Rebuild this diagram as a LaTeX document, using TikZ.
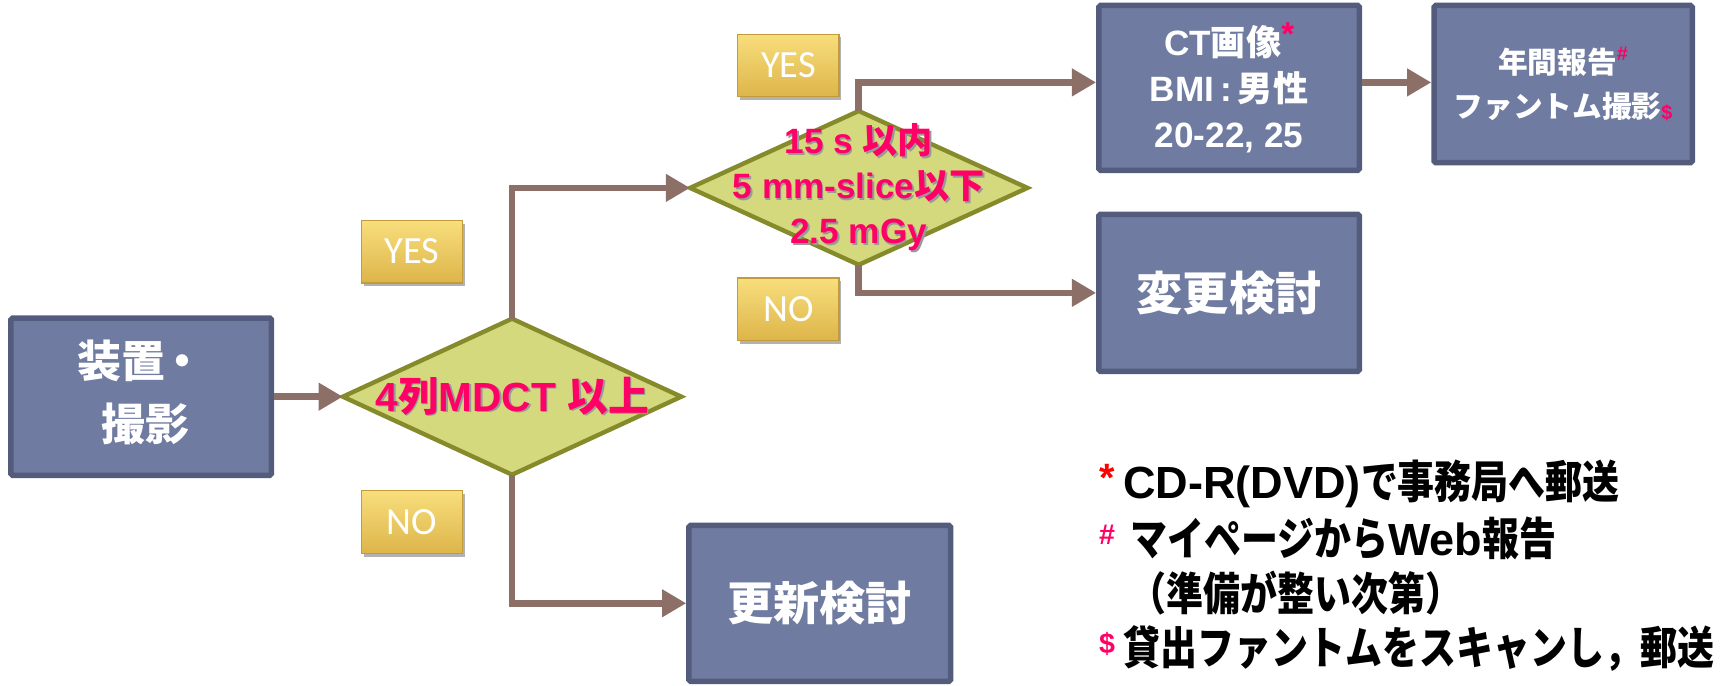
\documentclass[tikz,border=0pt]{standalone}
\usepackage{fontspec}
\usepackage{graphicx}
\setmainfont{Liberation Sans}
\newfontfamily\jp{Noto Sans CJK JP}
\newfontfamily\jpl{Noto Sans CJK JP}[FakeStretch=0.82]
\newfontfamily\carl{Carlito}
\usetikzlibrary{arrows.meta,shapes.geometric,shadows}
\definecolor{boxfill}{HTML}{6F7BA0}
\definecolor{boxline}{HTML}{535C7D}
\definecolor{diafill}{HTML}{D3D97C}
\definecolor{dialine}{HTML}{858A2B}
\definecolor{arr}{HTML}{8C7068}
\definecolor{mag}{HTML}{FF0066}
\definecolor{goldtop}{HTML}{F8DE7C}
\definecolor{goldbot}{HTML}{DDB54A}
\definecolor{goldline}{HTML}{C29C3A}
\newcommand\shd[1]{\leavevmode\rlap{\kern1.5pt\raisebox{-1.5pt}{\color{black!40}#1}}#1}
\tikzset{
  pbox/.style={draw=boxline, fill=boxfill, line width=5pt, text=white,
    align=center, inner sep=0pt, rounded corners=1.5pt},
  dshape/.style={diamond, draw=dialine, fill=diafill, line width=4pt, inner sep=0pt, outer sep=0pt},
  dtext/.style={text=mag, align=center, inner sep=0pt},
  lab/.style={minimum width=92pt, minimum height=57pt, inner sep=0pt, top color=goldtop,
    bottom color=goldbot, draw=goldline, line width=1pt, text=white,
    font=\carl\fontsize{35}{35}\selectfont,
    drop shadow={shadow xshift=2pt, shadow yshift=-3pt, opacity=0.3, fill=black}},
  conn/.style={draw=arr, line width=6pt, -{Triangle[length=22pt,width=24pt]}},
  leg/.style={font=\bfseries\fontsize{41}{41}\selectfont, anchor=west, inner sep=0pt}
}
\begin{document}
\begin{tikzpicture}[x=1pt,y=-1pt]
\useasboundingbox (0,0) rectangle (1568,623.4);
% process boxes
\node[pbox, minimum width=237pt, minimum height=143pt, font=\bfseries\fontsize{40}{57}\selectfont] (b1) at (128.5,361)
  {\begin{tabular}{@{}l@{}}{\jp\bfseries 装置}\kern-0.1em{\jp\bfseries ・}\\\hspace{0.55em}{\jp\bfseries 撮影}\end{tabular}};
\node[pbox, minimum width=237pt, minimum height=150pt, font=\bfseries\fontsize{32}{42}\selectfont] (ct) at (1118.5,80)
  {CT{\jp\bfseries 画像}\raisebox{0.3em}{\color{mag}\fontsize{30}{30}\selectfont*}\\
   BMI\,:\,{\jp\bfseries 男性}\\20-22, 25};
\node[pbox, minimum width=235pt, minimum height=143pt, font=\bfseries\fontsize{27}{40}\selectfont] (nen) at (1422.5,76.5)
  {{\jp\bfseries 年間報告}\raisebox{0.45em}{\color{mag}\fontsize{18}{18}\selectfont\#}\\
   {\jp\bfseries ファントム撮影}\raisebox{-0.05em}{\color{mag}\fontsize{18}{18}\selectfont\$}};
\node[pbox, minimum width=237pt, minimum height=143pt, font=\bfseries\fontsize{42}{42}\selectfont] (hen) at (1118.5,266.5)
  {{\jp\bfseries 変更検討}};
\node[pbox, minimum width=238pt, minimum height=142pt, font=\bfseries\fontsize{42}{42}\selectfont] (kou) at (746,549)
  {{\jp\bfseries 更新検討}};
% decisions
\node[dshape, minimum width=308pt, minimum height=142pt,
  label={[dtext, font=\bfseries\fontsize{37}{37}\selectfont]center:\shd{4{\jp\bfseries 列}MDCT {\jp\bfseries 以上}}}] (d1) at (466,361) {};
\node[dshape, minimum width=307pt, minimum height=140pt,
  label={[dtext, font=\bfseries\fontsize{32}{41}\selectfont]center:\shd{15 s {\jp\bfseries 以内}}\\\shd{5 mm-slice{\jp\bfseries 以下}}\\\shd{2.5 mGy}}] (d2) at (781.5,171) {};
% connectors
\draw[conn] (b1.east) -- (d1.west);
\draw[conn] (d1.north) |- (d2.west);
\draw[conn] (d1.south) |- (kou.west);
\draw[conn] (d2.north) |- ([yshift=5pt]ct.west);
\draw[conn] (d2.south) |- (hen.west);
\draw[conn] ([yshift=5pt]ct.east) -- ([yshift=5pt]ct.east -| nen.west);
% yes/no labels
\node[lab] (y1) at (375,229) {YES};
\node[lab] (n1) at (375,475) {NO};
\node[lab] (y2) at (717.5,59.5) {YES};
\node[lab] (n2) at (717.5,281.5) {NO};
% legend
\node[leg] (l1) at (1000,440) {\raisebox{0.15em}{\color{red}\fontsize{36}{36}\selectfont*}\hspace{8pt}CD-R(DVD){\jpl\bfseries で事務局へ郵送}};
\node[leg] (l2) at (1000,490) {\raisebox{0.25em}{\color{mag}\fontsize{26}{26}\selectfont\#}\hspace{14pt}{\jpl\bfseries マイページから}Web{\jpl\bfseries 報告}};
\node[leg] (l3) at (1028,540) {{\jpl\bfseries （準備が整い次第）}};
\node[leg] (l4) at (1000,590) {\raisebox{0.25em}{\color{mag}\fontsize{26}{26}\selectfont\$}\hspace{8pt}{\jpl\bfseries 貸出ファントムをスキャンし，郵送}};
\end{tikzpicture}
\end{document}
